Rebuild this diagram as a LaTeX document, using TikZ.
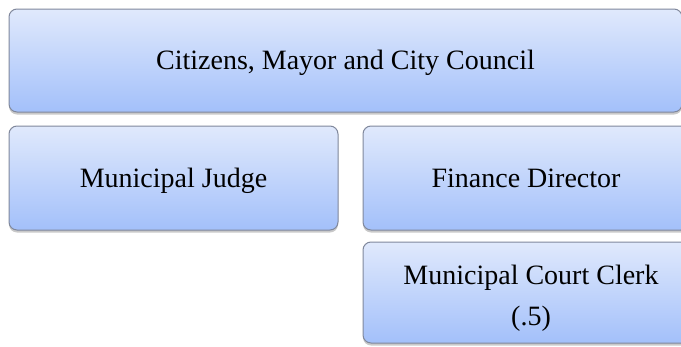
\documentclass[tikz,border=0pt]{standalone}
\usepackage{fontspec}
\setmainfont{Liberation Serif}
\usetikzlibrary{shadows}
\definecolor{boxtop}{RGB}{224,233,252}
\definecolor{boxbottom}{RGB}{163,192,250}
\definecolor{boxline}{RGB}{128,136,156}
\tikzset{
  orgbox/.style={
    draw=boxline, line width=1pt, rounded corners=8pt,
    top color=boxtop, bottom color=boxbottom,
    drop shadow={shadow xshift=0pt, shadow yshift=-2.5pt, opacity=0.3, fill=black!70},
    inner sep=0pt, align=center,
    font=\fontsize{28}{41}\selectfont
  },
  oneline/.style={text height=18.5pt, text depth=0pt}
}
\begin{document}
\begin{tikzpicture}[x=1pt,y=1pt]
  \useasboundingbox (0,0) rectangle (681,-346);
  \clip (0,0) rectangle (681,-346);
  % top tier
  \node[orgbox, oneline, minimum width=673pt, minimum height=103pt] (council) at (345.5,-60.5)
    {Citizens, Mayor and City Council};
  % second tier
  \node[orgbox, oneline, minimum width=329pt, minimum height=104pt] (judge) at (173.5,-178)
    {Municipal Judge};
  \node[orgbox, oneline, minimum width=326pt, minimum height=104pt] (finance) at (526,-178)
    {Finance Director};
  % third tier: two lines, first baseline a little above the middle
  \node[orgbox, minimum width=336pt, minimum height=101pt] (clerk) at (531,-292.5)
    {\raisebox{8pt}[50pt][50pt]{\parbox[t]{330pt}{\centering Municipal Court Clerk\\(.5)}}};
\end{tikzpicture}
\end{document}
